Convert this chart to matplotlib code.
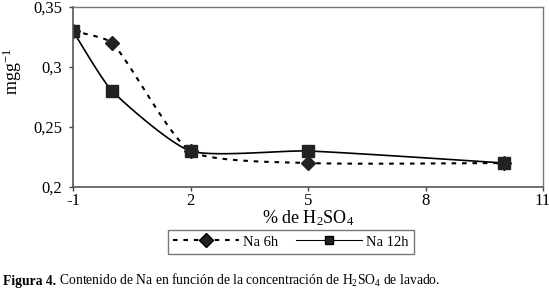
import matplotlib
matplotlib.use('Agg')

import numpy as np
import matplotlib.pyplot as plt

# === Data ===
conc = [-1, 0, 2, 5, 10]
na_6h = [0.33, 0.32, 0.23, 0.22, 0.22]
na_12h = [0.33, 0.28, 0.23, 0.23, 0.22]
xticks = [-1, 2, 5, 8, 11]
yticks = [0.2, 0.25, 0.3, 0.35]
ytick_labels = ["0,2", "0,25", "0,3", "0,35"]

plt.rcParams['font.family'] = 'Liberation Serif'
plt.rcParams['mathtext.fontset'] = 'custom'
plt.rcParams['mathtext.rm'] = 'Liberation Serif'
plt.rcParams['mathtext.it'] = 'Liberation Serif:italic'

XLIM = (-1, 11)
YLIM = (0.2, 0.35)
AX_W, AX_H = 470, 180  # axes size in pixels


def smooth(x, y, n=30, tension=0.6):
    # soft-cornered line through the points (chord-scaled cubic Bezier),
    # computed in screen space so uneven x spacing does not overshoot
    u = (np.asarray(x, float) - XLIM[0]) / (XLIM[1] - XLIM[0]) * AX_W
    v = (np.asarray(y, float) - YLIM[0]) / (YLIM[1] - YLIM[0]) * AX_H
    P = np.column_stack([u, v])
    m = len(P)
    L = np.linalg.norm(np.diff(P, axis=0), axis=1)
    T = np.zeros_like(P)
    for i in range(m):
        T[i] = P[min(i + 1, m - 1)] - P[max(i - 1, 0)]
    t = np.linspace(0, 1, n)[:, None]
    out = []
    for i in range(m - 1):
        p0, p3 = P[i], P[i + 1]
        l_prev = L[i - 1] if i > 0 else L[i]
        l_next = L[i + 1] if i + 1 < m - 1 else L[i]
        p1 = p0 + T[i] * L[i] / (l_prev + L[i]) / 3 * tension
        p2 = p3 - T[i + 1] * L[i] / (L[i] + l_next) / 3 * tension
        b = (1 - t) ** 3 * p0 + 3 * (1 - t) ** 2 * t * p1 + 3 * (1 - t) * t ** 2 * p2 + t ** 3 * p3
        out.append(b)
    out = np.vstack(out)
    xs = out[:, 0] / AX_W * (XLIM[1] - XLIM[0]) + XLIM[0]
    ys = out[:, 1] / AX_H * (YLIM[1] - YLIM[0]) + YLIM[0]
    return xs, ys


fig = plt.figure(figsize=(5.49, 2.97), dpi=100)
ax = fig.add_axes([73 / 549, 110 / 297, AX_W / 549, AX_H / 297])

dash = (0, (2.2, 2.8))
sx, sy = smooth(conc, na_6h)
ax.plot(sx, sy, color='black', lw=1.5, linestyle=dash)
sx, sy = smooth(conc, na_12h)
ax.plot(sx, sy, color='black', lw=1.2)
ax.plot(conc, na_6h, linestyle='none', marker='D', ms=7, color='#222222')
ax.plot(conc, na_12h, linestyle='none', marker='s', ms=8, color='#222222')

# legend proxies (line + marker)
h1, = ax.plot([], [], color='black', lw=1.5, linestyle=dash, marker='D', ms=7,
              markerfacecolor='#222222')
h2, = ax.plot([], [], color='black', lw=0.8, marker='s', ms=6,
              markerfacecolor='#222222')

ax.set_xlim(*XLIM)
ax.set_ylim(*YLIM)
ax.set_xticks(xticks)
ax.set_xticklabels([str(v) for v in xticks], fontsize=12)
ax.set_yticks(yticks)
ax.set_yticklabels(ytick_labels, fontsize=12)
ax.tick_params(direction='out', length=3, width=1, colors='#444444',
               labelcolor='black')
ax.tick_params(axis='x', pad=1)
ax.tick_params(axis='y', pad=5)

for side in ['left', 'bottom']:
    ax.spines[side].set_color('#555555')
    ax.spines[side].set_linewidth(1.2)
for side in ['top', 'right']:
    ax.spines[side].set_color('#777777')
    ax.spines[side].set_linewidth(1.0)

ax.set_xlabel('% de H$_2$SO$_4$', fontsize=13, labelpad=0)
ax.set_ylabel('mgg$^{-1}$', fontsize=13)
ax.yaxis.set_label_coords(-0.104, 0.64)

leg = fig.legend([h1, h2], ['Na 6h', 'Na 12h'], loc='center',
                 bbox_to_anchor=(291 / 549, 1 - 242 / 297), ncol=2,
                 fontsize=10.5, frameon=True, fancybox=False,
                 handlelength=4.5, columnspacing=1.2, handletextpad=0.3,
                 borderpad=0.35)
leg.get_frame().set_edgecolor('#555555')
leg.get_frame().set_linewidth(1.0)

# caption: bold "Figura 4." followed by normal text on the same baseline
cap_y = 1 - 285 / 297
t1 = fig.text(3 / 549, cap_y, 'Figura 4.', fontsize=9.8,
              fontweight='bold', va='baseline')
fig.canvas.draw()
bb = t1.get_window_extent()
fig.text(bb.x1 / fig.bbox.width, cap_y,
         ' Contenido de Na en función de la concentración de H$_2$SO$_4$ de lavado.',
         fontsize=9.8, va='baseline')

fig.savefig('out.png', dpi=100)
